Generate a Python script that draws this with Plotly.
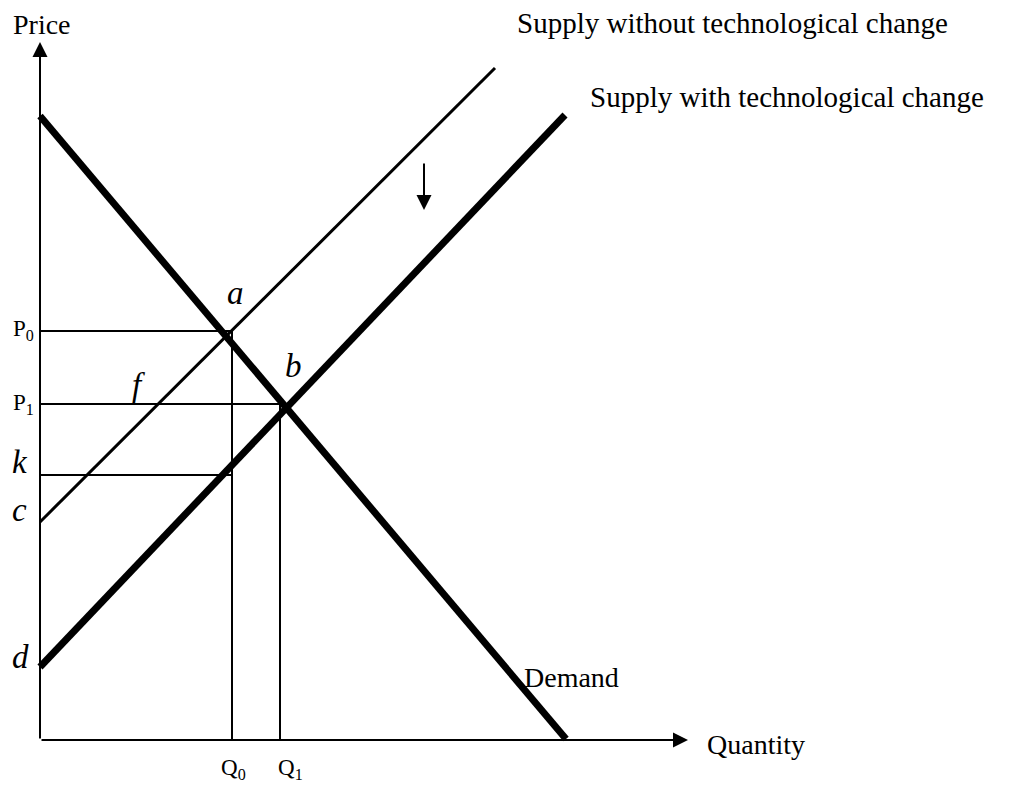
import plotly.graph_objects as go

# Data in chart units (quantity, price)
demand_q = [0, 52.6]
demand_p = [62.4, 0.1]
supply_without_q = [0, 45.5]
supply_without_p = [21.8, 67.2]
supply_with_q = [0, 52.5]
supply_with_p = [7.3, 62.5]
Q0, Q1 = 19.2, 24.0
P0, P1, K = 40.9, 33.6, 26.5
axis_q_max, axis_p_max = 64.8, 69.8
shift_arrow_q = 38.4
shift_arrow_p = [57.8, 53.0]

FONT = "Liberation Serif"

fig = go.Figure()
fig.add_trace(go.Scatter(x=demand_q, y=demand_p, mode="lines",
                         line=dict(color="black", width=7), hoverinfo="skip"))
fig.add_trace(go.Scatter(x=supply_without_q, y=supply_without_p, mode="lines",
                         line=dict(color="black", width=3), hoverinfo="skip"))
fig.add_trace(go.Scatter(x=supply_with_q, y=supply_with_p, mode="lines",
                         line=dict(color="black", width=7), hoverinfo="skip"))
guides = [([0, Q0], [P0, P0]), ([Q0, Q0], [P0, 0]),
          ([0, Q1], [P1, P1]), ([Q1, Q1], [P1, 0]),
          ([0, Q0], [K, K])]
for gx, gy in guides:
    fig.add_trace(go.Scatter(x=gx, y=gy, mode="lines",
                             line=dict(color="black", width=2), hoverinfo="skip"))

ann = []
def arrow(x, y, ax, ay):
    ann.append(dict(x=x, y=y, ax=ax, ay=ay, xref="x", yref="y", axref="x", ayref="y",
                    text="", showarrow=True, arrowhead=2, arrowsize=1.5, arrowwidth=2,
                    arrowcolor="black", standoff=0, startstandoff=0))
arrow(0, axis_p_max, 0, 0)
arrow(axis_q_max, 0, 0, 0)
arrow(shift_arrow_q, shift_arrow_p[1], shift_arrow_q, shift_arrow_p[0])

def label(x, y, text, size, anchor="left", italic=False):
    ann.append(dict(x=x, y=y, xref="x", yref="y", text=text, showarrow=False,
                    xanchor=anchor, yanchor="middle",
                    font=dict(family=FONT, size=size, color="black",
                              style="italic" if italic else "normal")))

label(0.2, 71.6, "Price", 28, "center")
label(47.5, 71.7, "Supply without technological change", 29)
label(54.8, 64.3, "Supply with technological change", 29)
label(48.2, 6.3, "Demand", 28)
label(66.5, -0.4, "Quantity", 28)
label(-2.9, 41.0, "P<sub>0</sub>", 23)
label(-2.9, 33.6, "P<sub>1</sub>", 23)
label(-3.0, 27.8, "k", 33, italic=True)
label(-3.0, 23.0, "c", 33, italic=True)
label(-3.0, 8.3, "d", 33, italic=True)
label(19.5, 44.7, "a", 33, "center", italic=True)
label(25.3, 37.4, "b", 33, "center", italic=True)
label(9.8, 35.5, "f", 33, "center", italic=True)
label(19.3, -2.9, "Q<sub>0</sub>", 23, "center")
label(25.0, -2.9, "Q<sub>1</sub>", 23, "center")

fig.update_layout(
    width=1002, height=777, margin=dict(l=0, r=0, t=0, b=0),
    paper_bgcolor="white", plot_bgcolor="white", showlegend=False,
    xaxis=dict(range=[-3.2, 97.0], visible=False, fixedrange=True),
    yaxis=dict(range=[-4.5, 73.2], visible=False, fixedrange=True),
    annotations=ann,
)
fig.write_html("out.html")
